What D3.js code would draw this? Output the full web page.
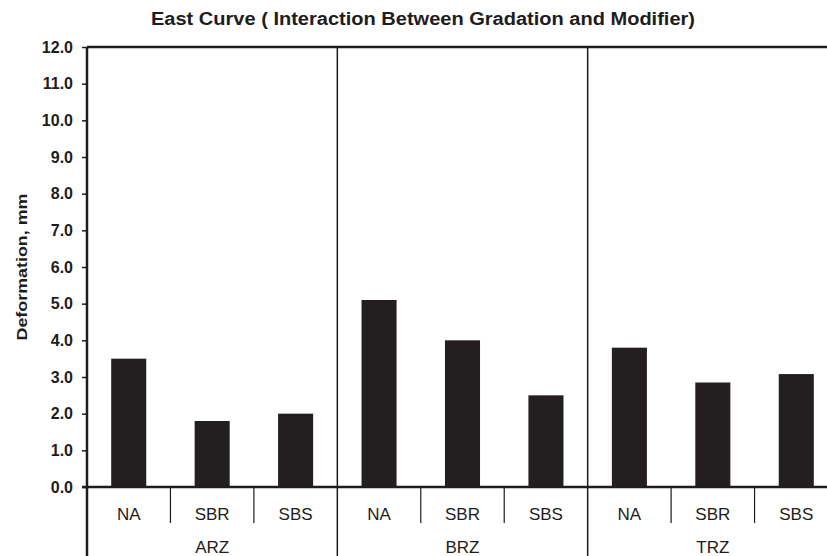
<!DOCTYPE html>
<html>
<head>
<meta charset="utf-8">
<script src="https://cdn.jsdelivr.net/npm/d3@7"></script>
<style>
  html, body { margin: 0; padding: 0; background: #fff; }
  svg { display: block; font-family: "Liberation Sans", Arial, sans-serif; }
</style>
</head>
<body>
<svg id="chart" width="827" height="556"></svg>
<script>
const groups = ["ARZ", "BRZ", "TRZ"];
const modifiers = ["NA", "SBR", "SBS"];
const values = {
  ARZ: [3.5, 1.8, 2.0],
  BRZ: [5.1, 4.0, 2.5],
  TRZ: [3.8, 2.85, 3.08]
};
const yTicks = [0, 1, 2, 3, 4, 5, 6, 7, 8, 9, 10, 11, 12];
const titleText = "East Curve ( Interaction Between Gradation and Modifier)";
const yLabel = "Deformation, mm";

const svg = d3.select("#chart");
const ink = "#1e1c1c";
const mLeft = 87, mRight = 838, mTop = 47, mBottom = 487;

const rows = [];
groups.forEach(g => modifiers.forEach((m, i) => rows.push({ g, m, key: g + "|" + m, v: values[g][i] })));

const x = d3.scaleBand().domain(rows.map(r => r.key)).range([mLeft, mRight]).padding(0);
const y = d3.scaleLinear().domain([0, 12]).range([mBottom, mTop]);
const barW = x.bandwidth() * 0.42;

// title
svg.append("text")
  .attr("x", 151).attr("y", 25)
  .attr("font-size", 18).attr("font-weight", "bold").attr("fill", ink)
  .attr("textLength", 544).attr("lengthAdjust", "spacingAndGlyphs")
  .text(titleText);

// y-axis label
svg.append("text")
  .attr("transform", `translate(27,${267}) rotate(-90)`)
  .attr("text-anchor", "middle")
  .attr("font-size", 15).attr("font-weight", "bold").attr("fill", ink)
  .attr("textLength", 147).attr("lengthAdjust", "spacingAndGlyphs")
  .text(yLabel);

// bars
svg.append("g").selectAll("rect").data(rows).join("rect")
  .attr("x", d => x(d.key) + (x.bandwidth() - barW) / 2)
  .attr("y", d => y(d.v))
  .attr("width", barW)
  .attr("height", d => y(0) - y(d.v))
  .attr("fill", "#231f20");

// y axis
const yAxis = svg.append("g").attr("transform", `translate(${mLeft},0)`)
  .call(d3.axisLeft(y).tickValues(yTicks).tickSize(5).tickPadding(9).tickFormat(d3.format(".1f")));
yAxis.select(".domain").remove();
yAxis.selectAll(".tick line").attr("stroke", ink).attr("stroke-width", 1.5);
yAxis.selectAll(".tick text").attr("font-size", 16).attr("font-weight", "bold").attr("fill", ink)
  .attr("font-family", "'Liberation Sans', Arial, sans-serif");

// frame: top line, baseline
svg.append("line").attr("x1", mLeft).attr("x2", 827).attr("y1", mTop).attr("y2", mTop)
  .attr("stroke", ink).attr("stroke-width", 2.5);
svg.append("line").attr("x1", mLeft - 5).attr("x2", 827).attr("y1", y(0)).attr("y2", y(0))
  .attr("stroke", ink).attr("stroke-width", 2.5);

// group separators (full height, down to bottom)
const groupEdges = groups.map(g => x(g + "|" + modifiers[0]));
svg.append("g").selectAll("line").data(groupEdges).join("line")
  .attr("x1", d => d).attr("x2", d => d)
  .attr("y1", mTop).attr("y2", 556)
  .attr("stroke", ink).attr("stroke-width", d => d === mLeft ? 2.5 : 1.5);

// category separators within groups
const catEdges = rows.filter(r => r.m !== modifiers[0]).map(r => x(r.key));
svg.append("g").selectAll("line").data(catEdges).join("line")
  .attr("x1", d => d).attr("x2", d => d)
  .attr("y1", y(0)).attr("y2", y(0) + 36)
  .attr("stroke", ink).attr("stroke-width", 1.2);

// category labels
svg.append("g").selectAll("text").data(rows).join("text")
  .attr("x", d => x(d.key) + x.bandwidth() / 2)
  .attr("y", 520)
  .attr("text-anchor", "middle")
  .attr("font-size", 17).attr("fill", ink)
  .text(d => d.m);

// group labels
svg.append("g").selectAll("text").data(groups).join("text")
  .attr("x", g => x(g + "|" + modifiers[1]) + x.bandwidth() / 2)
  .attr("y", 553)
  .attr("text-anchor", "middle")
  .attr("font-size", 17).attr("fill", ink)
  .text(g => g);
</script>
</body>
</html>
